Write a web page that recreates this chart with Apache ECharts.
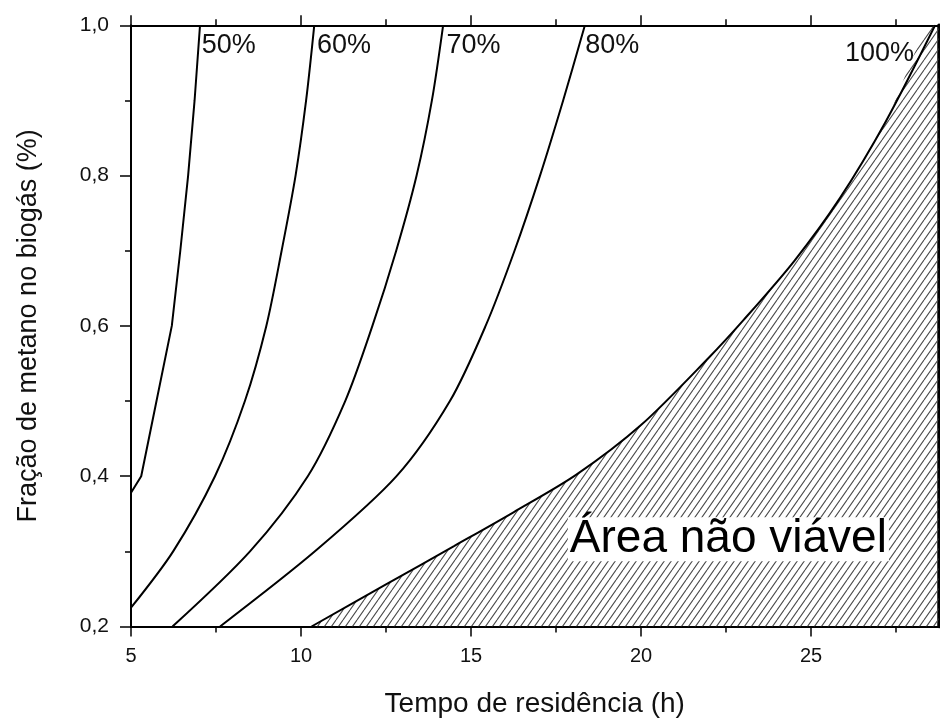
<!DOCTYPE html>
<html><head><meta charset="utf-8">
<script src="https://cdn.jsdelivr.net/npm/echarts@6/dist/echarts.min.js"></script>
<style>html,body{margin:0;padding:0;background:#fff}#c{width:940px;height:718px}</style>
</head><body><div id="c"></div><script>
// ---- data ----
const x50 = [5.0, 5.30, 5.75, 6.20, 6.45, 6.68, 6.87, 7.03];
const y50 = [0.378, 0.40, 0.50, 0.60, 0.70, 0.80, 0.90, 1.00];
const x60 = [5.0, 6.24, 7.47, 8.35, 8.98, 9.43, 9.84, 10.15, 10.39];
const y60 = [0.225, 0.30, 0.40, 0.50, 0.60, 0.70, 0.80, 0.90, 1.00];
const x70 = [6.22, 8.50, 10.20, 11.30, 12.10, 12.80, 13.40, 13.85, 14.18];
const y70 = [0.20, 0.30, 0.40, 0.50, 0.60, 0.70, 0.80, 0.90, 1.00];
const x80 = [7.62, 10.41, 12.81, 14.38, 15.43, 16.28, 17.03, 17.71, 18.35];
const y80 = [0.20, 0.30, 0.40, 0.50, 0.60, 0.70, 0.80, 0.90, 1.00];
const x100 = [10.31, 12.5, 14.5, 16.25, 18.1, 20.0, 22.0, 23.0, 24.5, 25.85, 27.2, 28.65];
const y100 = [0.20, 0.256, 0.307, 0.352, 0.402, 0.468, 0.558, 0.607, 0.686, 0.77, 0.872, 1.00];

const xMin = 5, xMax = 28.75, yMin = 0.2, yMax = 1.0;
const xMajor = [5, 10, 15, 20, 25];
const xMinor = [7.5, 12.5, 17.5, 22.5, 27.5];

const curveLabels = ['50%', '60%', '70%', '80%', '100%'];
const labelX = [7.08, 10.47, 14.28, 18.36, 28.03];
const labelY = [0.973, 0.973, 0.973, 0.973, 0.963];
const areaText = 'Área não viável';
const areaTextPos = [22.57, 0.316];

const xName = 'Tempo de residência (h)';
const yName = 'Fração de metano no biogás (%)';

// ---- helpers ----
const zip = (xs, ys) => xs.map((v, i) => [v, ys[i]]);
const FONT = 'Liberation Sans, Arial, sans-serif';
const TXT = '#111';

// hatch pattern
const pat = document.createElement('canvas');
pat.width = 7; pat.height = 10;
const g = pat.getContext('2d');
g.strokeStyle = '#4a4a4a'; g.lineWidth = 1.1;
g.beginPath();
[-7, 0, 7].forEach(o => { g.moveTo(o, 10); g.lineTo(o + 7, 0); });
g.stroke();

const chart = echarts.init(document.getElementById('c'), null, {renderer: 'canvas'});

const axisLineStyle = {color: '#000', width: 2};
function xAx(pos, ticks, len, withLabel, showLine) {
  return {
    type: 'value', min: xMin, max: xMax, position: pos,
    axisLine: {show: showLine, lineStyle: axisLineStyle},
    axisTick: {show: true, length: len, customValues: ticks, lineStyle: {color: '#000', width: 1.5}},
    axisLabel: withLabel ? {show: true, customValues: xMajor, fontSize: 20, margin: 20, color: TXT, fontFamily: FONT} : {show: false},
    splitLine: {show: false},
    minorTick: {show: false}
  };
}
const xAxes = [
  Object.assign(xAx('bottom', xMajor, 10, true, true), {
    name: xName, nameLocation: 'middle', nameGap: 64,
    nameTextStyle: {fontSize: 28, color: TXT, fontFamily: FONT}
  }),
  xAx('bottom', xMinor, 6, false, false),
  xAx('top', xMajor, 10, false, true),
  xAx('top', xMinor, 6, false, false)
];

const curveSeries = [[x50, y50, false], [x60, y60, 0.3], [x70, y70, 0.3], [x80, y80, 0.3], [x100, y100, 0.3]].map(([xs, ys, sm]) => ({
  type: 'line', data: zip(xs, ys), smooth: sm, showSymbol: false,
  lineStyle: {color: '#000', width: 2}, z: 3, silent: true
}));

const option = {
  animation: false,
  backgroundColor: '#fff',
  grid: {left: 131, right: 1.5, top: 25.3, bottom: 91.5, containLabel: false, outerBoundsMode: 'none'},
  xAxis: xAxes,
  yAxis: [
    {
      type: 'value', min: yMin, max: yMax, interval: 0.2, position: 'left',
      axisLine: {show: true, lineStyle: axisLineStyle},
      axisTick: {show: true, length: 11, lineStyle: {color: '#000', width: 1.5}},
      minorTick: {show: true, splitNumber: 2, length: 6, lineStyle: {color: '#000', width: 1.5}},
      axisLabel: {fontSize: 21, margin: 22, color: TXT, fontFamily: FONT,
        formatter: v => v.toFixed(1).replace('.', ',')},
      splitLine: {show: false},
      name: yName, nameLocation: 'middle', nameGap: 89,
      nameTextStyle: {fontSize: 27, color: TXT, fontFamily: FONT}
    },
    {
      type: 'value', min: yMin, max: yMax, interval: 0.2, position: 'right',
      axisLine: {show: true, lineStyle: {color: '#000', width: 3.5}},
      axisTick: {show: false}, axisLabel: {show: false}, splitLine: {show: false}
    }
  ],
  series: [
    {
      type: 'line', name: 'hatch', data: zip(x100, y100).concat([[xMax, yMax]]),
      smooth: 0.3, showSymbol: false, lineStyle: {width: 0, opacity: 0},
      areaStyle: {color: {image: pat, repeat: 'repeat'}, opacity: 1, origin: 'start'},
      z: 1, silent: true
    },
    ...curveSeries,
    {
      type: 'scatter', symbolSize: 0, z: 5, silent: true, itemStyle: {opacity: 1},
      data: curveLabels.map((t, i) => ({value: [labelX[i], labelY[i]], name: t,
        label: {align: i === 4 ? 'right' : 'left'}})),
      label: {show: true, position: [0, 0], formatter: p => p.name, verticalAlign: 'middle',
        fontSize: 27, color: TXT, fontFamily: FONT}
    },
    {
      type: 'scatter', symbolSize: 0, z: 6, silent: true, itemStyle: {opacity: 1},
      data: [{value: areaTextPos, name: areaText}],
      label: {show: true, position: [0, 0], formatter: p => p.name, align: 'center', verticalAlign: 'middle',
        fontSize: 46, color: '#000', fontFamily: FONT, backgroundColor: '#fff', padding: [0, 2, -2, 2]}
    }
  ]
};
chart.setOption(option);
</script></body></html>
